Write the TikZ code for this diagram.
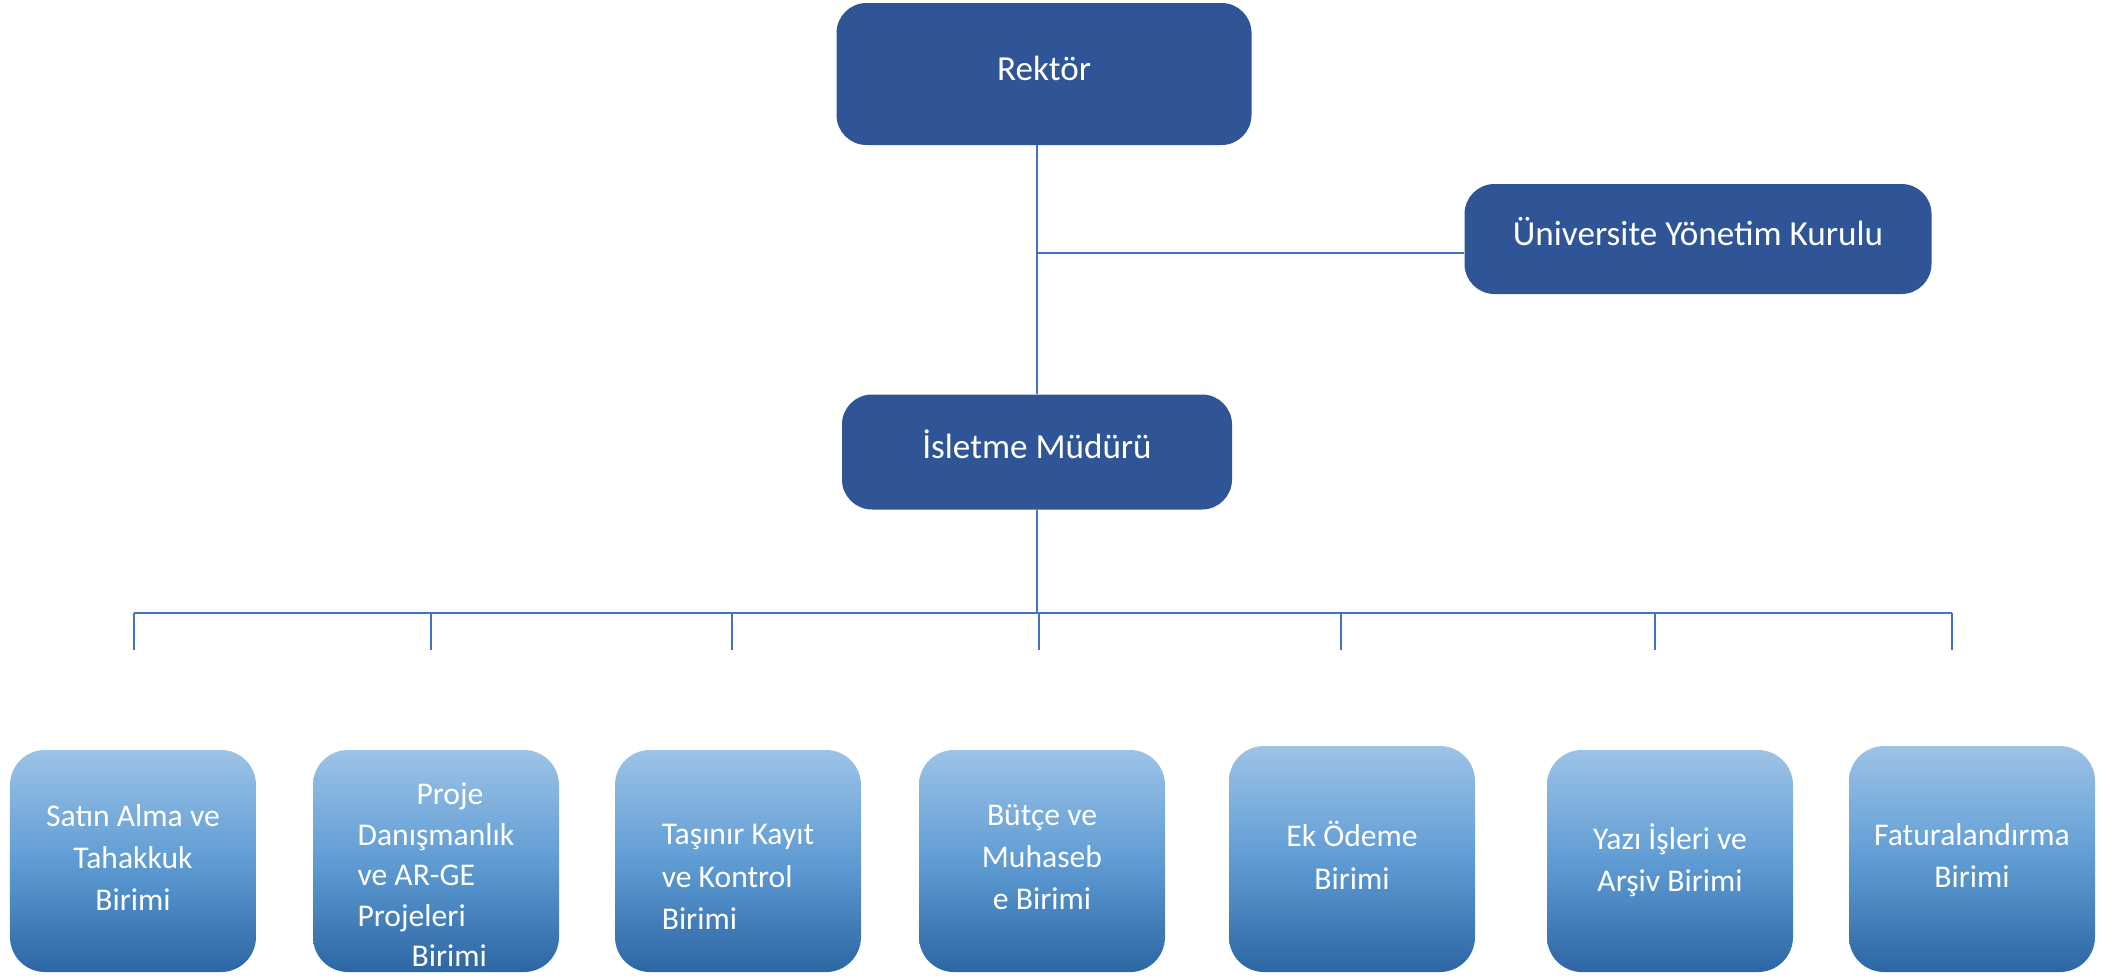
\documentclass[tikz,border=0pt]{standalone}
\usepackage{fontspec}
\setmainfont{Carlito}
\usepackage{xcolor}
\definecolor{headBlue}{HTML}{2F5597}
\definecolor{lineBlue}{HTML}{4472C4}
\definecolor{unitTop} {HTML}{9DC3E6}
\definecolor{unitMid} {HTML}{5F9CD4}
\definecolor{unitBot} {HTML}{2C66A4}
\usetikzlibrary{positioning, calc}
\tikzset{
    headbox/.style={rectangle, rounded corners=6mm, fill=headBlue, text=white,
                    font=\fontsize{20}{24}\selectfont, inner sep=2mm,
                    text height=4.5mm, text depth=2mm},
    unitbox/.style={rectangle, rounded corners=7mm, top color=unitTop,
                    bottom color=unitBot, middle color=unitMid, text=white,
                    minimum width=49.2mm, minimum height=44.4mm, align=center,
                    font=\fontsize{18}{24}\selectfont, inner sep=1mm,
                    text depth=1.5mm},
    link/.style={-, draw=lineBlue, line width=0.8pt},
}

\begin{document}
\begin{tikzpicture}[x=0.2mm, y=-0.2mm]
    \useasboundingbox (0,0) rectangle (2107,975);
    % top of the chart
    \node[headbox, minimum width=83mm, minimum height=28.4mm] (rektor) at (1044,74) {Rektör};
    \node[headbox, minimum width=93.4mm, minimum height=22mm] (kurul) at (1698,239) {Üniversite Yönetim Kurulu};
    \node[headbox, minimum width=78mm, minimum height=23mm] (isletme) at (1037,452) {İsletme Müdürü};
    % units
    \node[unitbox] (satin)   at (133,861)  {Satın Alma ve\\Tahakkuk\\Birimi};
    \node[unitbox, align=left, inner ysep=0.5mm, text depth=0pt, font=\fontsize{18}{23}\selectfont] (proje) at (436,861)
        {\rule{0pt}{28pt}\hspace{11.8mm}Proje\\Danışmanlık\\ve AR-GE\\Projeleri\\\hspace{10.8mm}Birimi};
    \node[unitbox, align=left] (tasinir) at (738,861) {\rule{0pt}{34pt}Taşınır Kayıt\\ ve Kontrol\\ Birimi};
    \node[unitbox] (butce)   at (1042,861) {Bütçe ve\\Muhaseb\\e Birimi};
    \node[unitbox, minimum height=45.2mm] (ekodeme) at (1352,859) {Ek Ödeme\\Birimi};
    \node[unitbox] (yazi)    at (1670,861) {Yazı İşleri ve\\Arşiv Birimi};
    \node[unitbox, minimum height=45.2mm] (fatura)  at (1972,859) {Faturalandırma\\Birimi};
    % junctions
    \coordinate (kj)  at (1037,253);
    \coordinate (bus) at (1037,613);
    \coordinate (d1) at (134,650);
    \coordinate (d2) at (431,650);
    \coordinate (d3) at (732,650);
    \coordinate (d4) at (1039,650);
    \coordinate (d5) at (1341,650);
    \coordinate (d6) at (1655,650);
    \coordinate (d7) at (1952,650);
    % connectors
    \draw[link] (rektor.south -| isletme) -- (isletme.north);
    \draw[link] (kj) -- (kj -| kurul.west);
    \draw[link] (isletme.south) -- (bus);
    \draw[link] (d1 |- bus) -- (d7 |- bus);
    \draw[link] (d1 |- bus) -- (d1);
    \draw[link] (d2 |- bus) -- (d2);
    \draw[link] (d3 |- bus) -- (d3);
    \draw[link] (d4 |- bus) -- (d4);
    \draw[link] (d5 |- bus) -- (d5);
    \draw[link] (d6 |- bus) -- (d6);
    \draw[link] (d7 |- bus) -- (d7);
\end{tikzpicture}
\end{document}
